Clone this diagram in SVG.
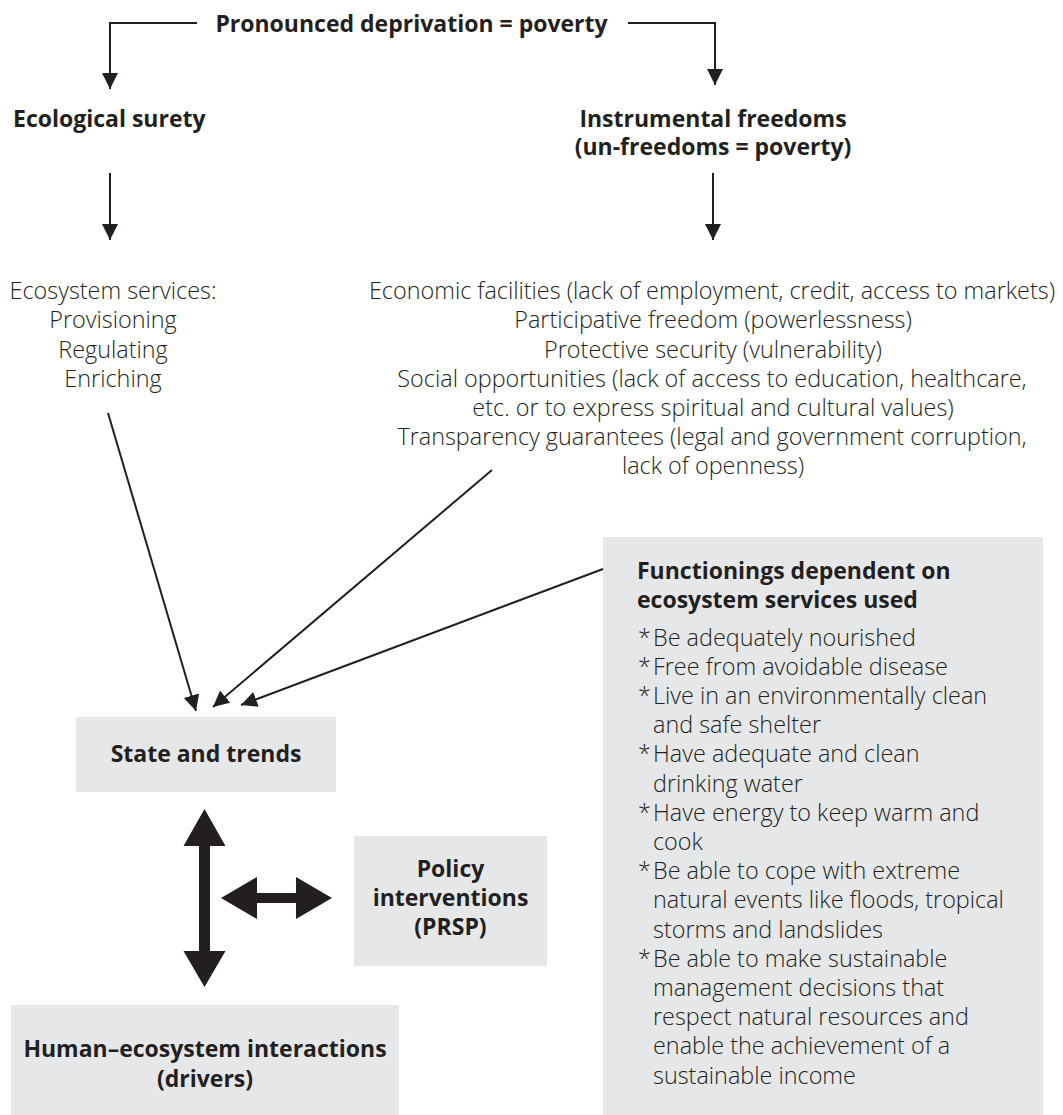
<svg xmlns="http://www.w3.org/2000/svg" width="1063" height="1115" viewBox="0 0 1063 1115">
<style>
text{font-family:"Open Sans","Noto Sans","Liberation Sans",sans-serif;fill:#231f20}
.b{font-weight:700;font-size:23px}
.r{font-weight:300;font-size:23.4px}
.c{text-anchor:middle}
.box{fill:#e6e7e8}
.ln{fill:none;stroke:#231f20;stroke-width:2}
.big{fill:#231f20}
</style>
<defs>
<marker id="ah" markerUnits="userSpaceOnUse" markerWidth="17" markerHeight="17" refX="16" refY="8" orient="auto">
<path d="M0,0 L16,8 L0,16 z" fill="#231f20"/>
</marker>
</defs>
<rect width="1063" height="1115" fill="#ffffff"/>
<g id="poverty"><text class="b c" x="411.5" y="32">Pronounced deprivation = poverty</text></g>
<g id="ecological"><text class="b" x="13" y="127">Ecological surety</text></g>
<g id="instrumental"><text class="b c"><tspan x="713" y="127">Instrumental freedoms</tspan><tspan x="713" y="155">(un-freedoms = poverty)</tspan></text></g>
<g id="ecoservices">
<text class="r c" x="113" y="299">Ecosystem services:</text>
<text class="r c" x="113" y="328">Provisioning</text>
<text class="r c" x="113" y="358">Regulating</text>
<text class="r c" x="113" y="387">Enriching</text>
</g>
<g id="freedoms">
<text class="r c" x="712" y="299">Economic facilities (lack of employment, credit, access to markets)</text>
<text class="r c" x="713" y="328">Participative freedom (powerlessness)</text>
<text class="r c" x="713" y="358">Protective security (vulnerability)</text>
<text class="r c" x="712" y="387">Social opportunities (lack of access to education, healthcare,</text>
<text class="r c" x="713" y="416">etc. or to express spiritual and cultural values)</text>
<text class="r c" x="712" y="445">Transparency guarantees (legal and government corruption,</text>
<text class="r c" x="713" y="474">lack of openness)</text>
</g>
<g id="functionings">
<rect class="box" x="603" y="537" width="440" height="578"/>
<text class="b" x="637" y="579">Functionings dependent on</text>
<text class="b" x="637" y="608">ecosystem services used</text>
<text class="r"><tspan x="638" y="645.5">*</tspan><tspan x="653">Be adequately nourished</tspan></text>
<text class="r"><tspan x="638" y="674.7">*</tspan><tspan x="653">Free from avoidable disease</tspan></text>
<text class="r"><tspan x="638" y="703.9">*</tspan><tspan x="653">Live in an environmentally clean</tspan></text>
<text class="r" x="653" y="733.1">and safe shelter</text>
<text class="r"><tspan x="638" y="762.3">*</tspan><tspan x="653">Have adequate and clean</tspan></text>
<text class="r" x="653" y="791.5">drinking water</text>
<text class="r"><tspan x="638" y="820.7">*</tspan><tspan x="653">Have energy to keep warm and</tspan></text>
<text class="r" x="653" y="849.9">cook</text>
<text class="r"><tspan x="638" y="879.1">*</tspan><tspan x="653">Be able to cope with extreme</tspan></text>
<text class="r" x="653" y="908.3">natural events like floods, tropical</text>
<text class="r" x="653" y="937.5">storms and landslides</text>
<text class="r"><tspan x="638" y="966.7">*</tspan><tspan x="653">Be able to make sustainable</tspan></text>
<text class="r" x="653" y="995.9">management decisions that</text>
<text class="r" x="653" y="1025.1">respect natural resources and</text>
<text class="r" x="653" y="1054.3">enable the achievement of a</text>
<text class="r" x="653" y="1083.5">sustainable income</text>
</g>
<g id="state">
<rect class="box" x="76" y="717" width="260" height="75"/>
<text class="b c" x="206" y="762">State and trends</text>
</g>
<g id="policy">
<rect class="box" x="354" y="836" width="193" height="130"/>
<text class="b c" x="450.5" y="877">Policy</text>
<text class="b c" x="450.5" y="906">interventions</text>
<text class="b c" x="450.5" y="935">(PRSP)</text>
</g>
<g id="human">
<rect class="box" x="11" y="1005" width="388" height="110"/>
<text class="b c" x="205" y="1057">Human–ecosystem interactions</text>
<text class="b c" x="205" y="1087">(drivers)</text>
</g>
<g id="connectors">
<path class="ln" d="M197,23 H110 V89" marker-end="url(#ah)"/>
<path class="ln" d="M628,23 H715 V85" marker-end="url(#ah)"/>
<path class="ln" d="M110,173 V240" marker-end="url(#ah)"/>
<path class="ln" d="M713,173 V240" marker-end="url(#ah)"/>
<path class="ln" d="M108,413 L196,711" marker-end="url(#ah)"/>
<path class="ln" d="M492,470 L213,707" marker-end="url(#ah)"/>
<path class="ln" d="M603,569 L241,705" marker-end="url(#ah)"/>
<polygon class="big" points="204.5,809 225.5,846 210,846 210,951 225.5,951 204.5,987 183.5,951 199,951 199,846 183.5,846"/>
<polygon class="big" points="221,898 257,877 257,893 296,893 296,877 332,898 296,919 296,903 257,903 257,919"/>
</g>
</svg>
